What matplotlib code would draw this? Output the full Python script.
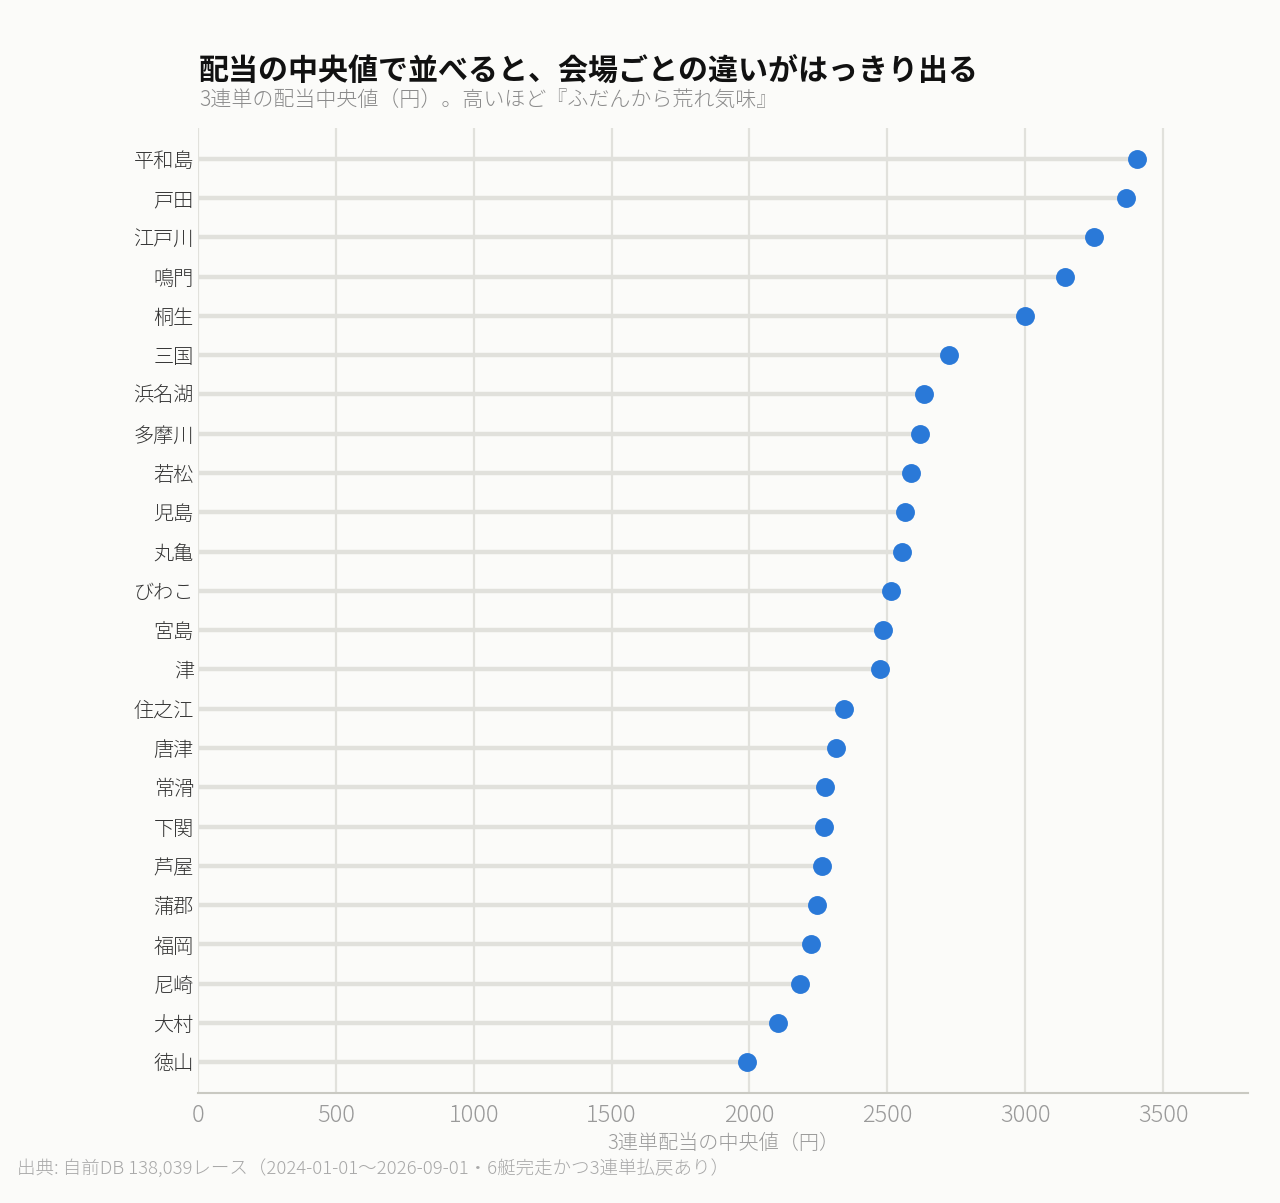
import matplotlib
matplotlib.use("Agg")
import matplotlib.pyplot as plt

plt.rcParams['font.family'] = ['Noto Sans CJK JP', 'DejaVu Sans']

venues = ["平和島", "戸田", "江戸川", "鳴門", "桐生", "三国", "浜名湖", "多摩川",
          "若松", "児島", "丸亀", "びわこ", "宮島", "津", "住之江", "唐津",
          "常滑", "下関", "芦屋", "蒲郡", "福岡", "尼崎", "大村", "徳山"]
medians = [3404, 3365, 3251, 3143, 3000, 2723, 2632, 2618,
           2585, 2563, 2552, 2512, 2483, 2472, 2342, 2313,
           2273, 2271, 2262, 2244, 2222, 2182, 2102, 1992]
xticks = [0, 500, 1000, 1500, 2000, 2500, 3000, 3500]

title = "配当の中央値で並べると、会場ごとの違いがはっきり出る"
subtitle = "3連単の配当中央値（円）。高いほど『ふだんから荒れ気味』"
xlabel = "3連単配当の中央値（円）"
source = "出典: 自前DB 138,039レース（2024-01-01〜2026-09-01・6艇完走かつ3連単払戻あり）"

bg = "#fbfbf9"
fig = plt.figure(figsize=(12.8, 12.03), dpi=100, facecolor=bg)
ax = fig.add_axes([198/1280, 1 - 1093/1203, (1248-198)/1280, (1093-128)/1203])
ax.set_facecolor(bg)

n = len(venues)
ypos = list(range(n))
ax.hlines(ypos, 0, medians, color="#e1e1dc", linewidth=3.2, zorder=2)
ax.scatter(medians, ypos, s=185, color="#2a79d8", zorder=3, linewidths=0)

ax.set_xlim(0, 3808)
ax.set_ylim(n - 1 + 0.78, -0.78)
ax.set_yticks(ypos)
ax.set_yticklabels(venues, fontsize=14.5, color="#333333", fontweight="light")
ax.set_xticks(xticks)
ax.set_xticklabels([str(t) for t in xticks], fontsize=17, color="#9a9a9a",
                   fontweight="light")
ax.tick_params(axis='both', length=0)
ax.tick_params(axis='x', pad=7)
ax.tick_params(axis='y', pad=3)
ax.grid(axis='x', color="#e1e1dc", linewidth=1.6, zorder=1)
ax.set_axisbelow(True)
for s in ["top", "right", "left"]:
    ax.spines[s].set_visible(False)
ax.spines["bottom"].set_color("#c9c9c2")
ax.spines["bottom"].set_linewidth(1.5)

ax.set_xlabel(xlabel, fontsize=14.5, color="#9a9a9a", labelpad=4,
              fontweight="light")

fig.text(199/1280, 1 - 71/1203, title, fontsize=21.6, fontweight="bold",
         color="#111111", va="center", ha="left")
fig.text(199/1280, 1 - 100/1203, subtitle, fontsize=15.1, color="#8a8a8a",
         va="center", ha="left", fontweight="light")
fig.text(17/1280, 1 - 1168/1203, source, fontsize=13.3, color="#a8a8a8",
         va="center", ha="left", fontweight="light")

fig.savefig("out.png", dpi=100, facecolor=bg)
